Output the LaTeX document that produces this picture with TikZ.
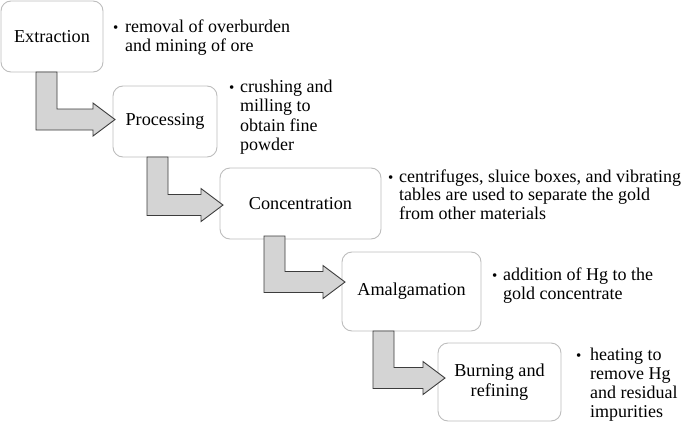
\documentclass[tikz,border=0pt]{standalone}
\usepackage{fontspec}
\setmainfont{Liberation Serif}
\definecolor{boxgray}{HTML}{BDBDBD}
\definecolor{arrowfill}{HTML}{D4D4D4}
\definecolor{arrowedge}{HTML}{3C3C3C}
\begin{document}
\begin{tikzpicture}[x=1pt,y=-1pt,
  stage/.style={draw=boxgray, line width=0.9pt, rounded corners=10pt, fill=white,
    inner sep=0pt, align=center, font=\fontsize{18.2}{19.5}\selectfont},
  bentarrow/.style={draw=arrowedge, fill=arrowfill, line width=0.9pt, line join=miter},
  note/.style={anchor=base west, inner sep=0pt, font=\fontsize{18}{19}\selectfont},
  dot/.style={anchor=base west, inner sep=0pt, font=\fontsize{15}{19}\selectfont}]
\useasboundingbox (0,0) rectangle (685,423);

% stage boxes
\node[stage, minimum width=102pt, minimum height=71pt] (ext) at (52,36.5) {Extraction};
\node[stage, minimum width=104pt, minimum height=71pt] (proc) at (165,121.5) {Processing};
\node[stage, minimum width=161pt, minimum height=71pt] (conc) at (300.5,203.5) {Concentration};
\node[stage, minimum width=139pt, minimum height=79pt] (amal) at (411.5,291.5) {Amalgamation};
\node[stage, minimum width=123pt, minimum height=78pt] (burn) at (499.5,382) {Burning and\\refining};

% bent arrows
\draw[bentarrow] (36,72) -- (36,130) -- (93,130) -- (93,136) -- (115,119.5) -- (93,103) -- (93,109) -- (57,109) -- (57,72) -- cycle;
\draw[bentarrow] (147,157) -- (147,215.5) -- (201,215.5) -- (201,221.5) -- (223,205) -- (201,188.5) -- (201,194.5) -- (168,194.5) -- (168,157) -- cycle;
\draw[bentarrow] (264,236) -- (264,292.5) -- (323,292.5) -- (323,298.5) -- (345,282) -- (323,265.5) -- (323,271.5) -- (285,271.5) -- (285,236) -- cycle;
\draw[bentarrow] (373,331) -- (373,388.5) -- (423,388.5) -- (423,394.5) -- (445,378) -- (423,361.5) -- (423,367.5) -- (394,367.5) -- (394,331) -- cycle;

% bullets and notes
\node[dot] (b1) at (113,32) {•};
\node[note] (n1) at (125,32) {\parbox[t]{220pt}{removal of overburden\\and mining of ore}};
\node[dot] (b2) at (229,92) {•};
\node[note] (n2) at (240,92) {\parbox[t]{140pt}{\baselineskip=19.5pt crushing and\\milling to\\obtain fine\\powder}};
\node[dot] (b3) at (388,182) {•};
\node[note] (n3) at (399,182) {\parbox[t]{285pt}{\baselineskip=18.5pt centrifuges, sluice boxes, and vibrating\\tables are used to separate the gold\\from other materials}};
\node[dot] (b4) at (492,280) {•};
\node[note] (n4) at (503,280) {\parbox[t]{180pt}{addition of Hg to the\\gold concentrate}};
\node[dot] (b5) at (576,360) {•};
\node[note] (n5) at (590,360) {\parbox[t]{95pt}{heating to\\remove Hg\\and residual\\impurities}};
\end{tikzpicture}
\end{document}
